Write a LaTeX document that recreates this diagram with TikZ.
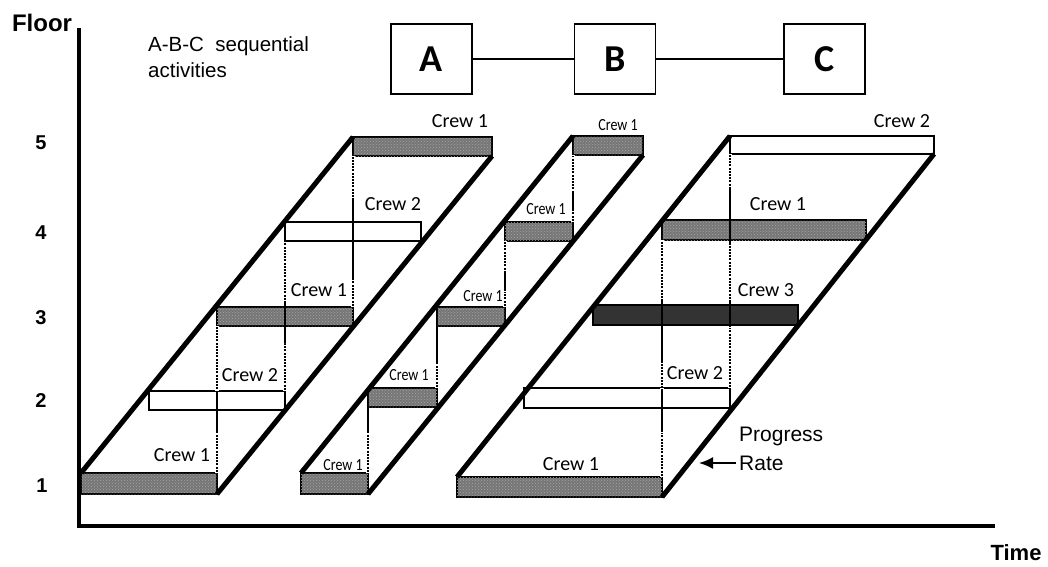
\documentclass[tikz,border=0pt]{standalone}
\usepackage{fontspec}
\setmainfont{Liberation Sans}
\newfontfamily\calibri{Carlito}
\usetikzlibrary{calc,arrows.meta,patterns}
\definecolor{barGray}{RGB}{118,118,118}
\definecolor{barDot}{RGB}{165,165,165}
\definecolor{barDark}{RGB}{51,51,51}
\newcommand\dotpart[4]{\draw[dotover] ($(#1)!#3!(#2)$) -- ($(#1)!#4!(#2)$);}
\begin{document}
\begin{tikzpicture}[x=1pt,y=-1pt,
  bar/.style={draw=black, line width=1.3pt, minimum height=19pt, inner sep=0pt, outer sep=0pt, anchor=north west},
  gbar/.style={bar, fill=barGray, postaction={pattern=crosshatch dots, pattern color=barDot}},
  wbar/.style={bar, fill=white},
  dbar/.style={bar, fill=barDark},
  slant/.style={line width=5pt},
  vert/.style={line width=2.8pt},
  dotover/.style={white, line width=3.4pt, dash pattern=on 1.2pt off 2pt},
  crew/.style={font=\calibri\fontsize{20}{24}\selectfont, inner sep=0pt},
  screw/.style={font=\calibri\fontsize{17}{20}\selectfont, inner sep=0pt},
  fnum/.style={font=\bfseries\fontsize{20}{22}\selectfont, inner sep=0pt},
  act/.style={draw=black, line width=1.5pt, minimum width=81pt, minimum height=70pt, inner sep=0pt, font=\calibri\bfseries\fontsize{38}{40}\selectfont},
  axis/.style={line width=4.8pt}
]
\useasboundingbox (0,0) rectangle (1048,566);

% axes
\coordinate (ytop) at (79,28);
\coordinate (orig) at (79,526);
\coordinate (xend) at (995,526);
\draw[axis] (ytop) -- (orig) -- (xend);
\node[font=\bfseries\fontsize{24}{26}\selectfont, inner sep=0pt] (floorlbl) at (42,23) {Floor};
\node[font=\bfseries\fontsize{22}{24}\selectfont, inner sep=0pt] (timelbl) at (1016,553) {Time};

% floor numbers
\node[fnum] (f5) at (41,143) {5};
\node[fnum] (f4) at (41,233) {4};
\node[fnum] (f3) at (41,318) {3};
\node[fnum] (f2) at (41,401) {2};
\node[fnum] (f1) at (42,486) {1};

% title text
\node[anchor=north west, align=left, inner sep=0pt, font=\fontsize{20.5}{26}\selectfont] (title) at (148,36) {A-B-C\ \ sequential\\activities};

% activity boxes
\node[act] (A) at (431.5,59) {A};
\node[act] (B) at (615,59) {B};
\node[act] (C) at (824.5,59) {C};
\draw[line width=1.5pt] (A) -- (B) -- (C);

% ---- Activity A bars
\node[gbar, minimum width=136pt, minimum height=21pt] (a1) at (81,473) {};
\node[wbar, minimum width=136pt] (a2) at (149,391) {};
\node[gbar, minimum width=136pt] (a3) at (217,307) {};
\node[wbar, minimum width=136pt] (a4) at (285,222) {};
\node[gbar, minimum width=139pt] (a5) at (353,137) {};

% ---- Activity B bars
\node[gbar, minimum width=67pt, minimum height=21pt] (b1) at (301,473) {};
\node[gbar, minimum width=69pt] (b2) at (368,388) {};
\node[gbar, minimum width=68pt] (b3) at (437,307) {};
\node[gbar, minimum width=68pt] (b4) at (505,222) {};
\node[gbar, minimum width=70pt] (b5) at (573,136) {};

% ---- Activity C bars
\node[gbar, minimum width=205pt, minimum height=20pt] (c1) at (457,477) {};
\node[wbar, minimum width=206pt, minimum height=20pt] (c2) at (524,388) {};
\node[dbar, minimum width=205pt, minimum height=20pt] (c3) at (593,305) {};
\node[gbar, minimum width=204pt, minimum height=20pt] (c4) at (662,220) {};
\node[wbar, minimum width=204pt, minimum height=18pt] (c5) at (730,136) {};

% ---- vertical crew transfer lines
\draw[vert] (a1.north east) -- (a3.south west);
\dotpart{a1.north east}{a3.south west}{0}{0.27}
\dotpart{a1.north east}{a3.south west}{0.56}{1}
\draw[vert] (a2.north east) -- (a4.south west);
\dotpart{a2.north east}{a4.south west}{0}{0.32}
\dotpart{a2.north east}{a4.south west}{0.6}{1}
\draw[vert] (a3.north east) -- (a5.south west);
\dotpart{a3.north east}{a5.south west}{0}{0.18}
\dotpart{a3.north east}{a5.south west}{0.72}{1}

\draw[vert] (b1.north east) -- (b2.south west);
\dotpart{b1.north east}{b2.south west}{0}{0.6}
\draw[vert] (b2.north east) -- (b3.south west);
\dotpart{b2.north east}{b3.south west}{0}{0.41}
\draw[vert] (b3.north east) -- (b4.south west);
\dotpart{b3.north east}{b4.south west}{0}{0.25}
\dotpart{b3.north east}{b4.south west}{0.55}{1}
\draw[vert] (b4.north east) -- (b5.south west);
\dotpart{b4.north east}{b5.south west}{0}{0.18}
\dotpart{b4.north east}{b5.south west}{0.47}{1}

\draw[vert] (c1.north east) -- (c4.south west);
\dotpart{c1.north east}{c4.south west}{0}{0.19}
\dotpart{c1.north east}{c4.south west}{0.37}{0.48}
\dotpart{c1.north east}{c4.south west}{0.75}{1}
\draw[vert] (c2.north east) -- (c5.south west);
\dotpart{c2.north east}{c5.south west}{0}{0.26}
\dotpart{c2.north east}{c5.south west}{0.376}{0.61}
\dotpart{c2.north east}{c5.south west}{0.86}{1}

% ---- slanted progress lines
\draw[slant] (a1.north west) -- (a5.north west);
\draw[slant] (a1.south east) -- (a5.south east);
\draw[slant] (b1.north west) -- (b5.north west);
\draw[slant] (b1.south east) -- (b5.south east);
\draw[slant] (c1.north west) -- (c5.north west);
\draw[slant] (c1.south east) -- (c5.south east);

% ---- crew labels
\node[crew] (la1) at (182,455) {Crew 1};
\node[crew] (la2) at (250,375) {Crew 2};
\node[crew] (la3) at (319,290) {Crew 1};
\node[crew] (la4) at (393,204) {Crew 2};
\node[crew] (la5) at (460,121) {Crew 1};

\node[screw] (lb1) at (343,465) {\scalebox{0.82}[1]{Crew 1}};
\node[screw] (lb2) at (409,375) {\scalebox{0.82}[1]{Crew 1}};
\node[screw] (lb3) at (483,296) {\scalebox{0.82}[1]{Crew 1}};
\node[screw] (lb4) at (546,209) {\scalebox{0.82}[1]{Crew 1}};
\node[screw] (lb5) at (618,125) {\scalebox{0.82}[1]{Crew 1}};

\node[crew] (lc1) at (571,464) {Crew 1};
\node[crew] (lc2) at (695,373) {Crew 2};
\node[crew] (lc3) at (766,290) {Crew 3};
\node[crew] (lc4) at (778,204) {Crew 1};
\node[crew] (lc5) at (902,121) {Crew 2};

% ---- progress rate
\node[anchor=west, inner sep=0pt, font=\fontsize{21}{23}\selectfont] (prog) at (739,436) {Progress};
\node[anchor=west, inner sep=0pt, font=\fontsize{21}{23}\selectfont] (rate) at (739,463) {Rate};
\coordinate (prtip) at (699,463);
\draw[line width=1.8pt, -{Latex[length=14pt,width=12pt]}] ([xshift=-3pt]rate.west) -- (prtip);
\end{tikzpicture}
\end{document}
